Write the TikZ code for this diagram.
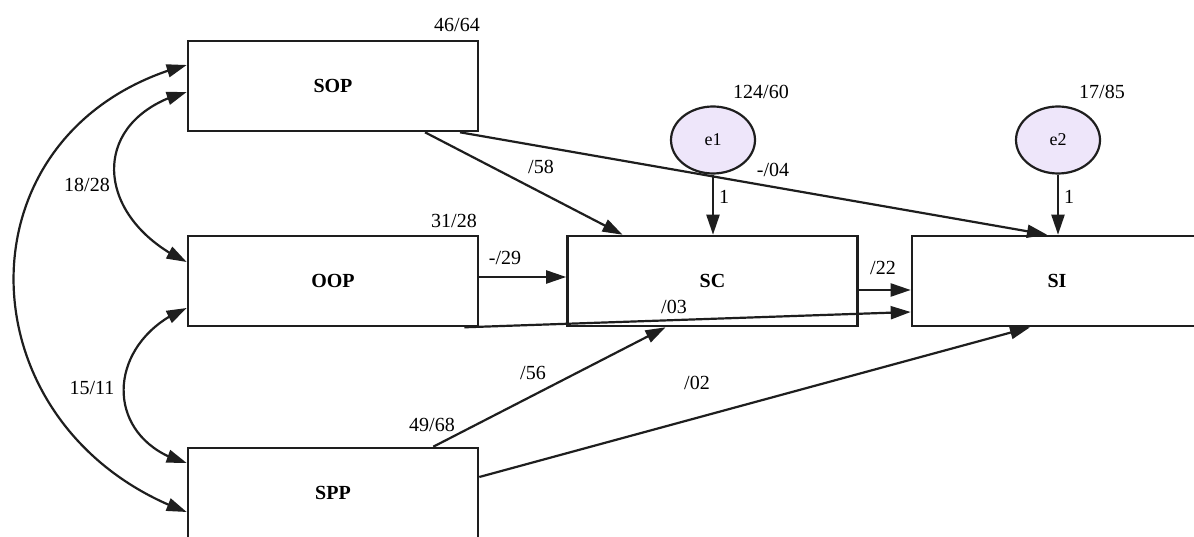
\documentclass[tikz,border=0pt]{standalone}
\usepackage{fontspec}
\setmainfont{Liberation Serif}
\usetikzlibrary{arrows.meta,bending,shapes.geometric}
\definecolor{lav}{RGB}{238,230,250}
\definecolor{ln}{RGB}{30,30,30}
\begin{document}
\begin{tikzpicture}[x=1pt,y=-1pt,
 box/.style={draw=ln,line width=2.6pt,fill=white,minimum width=290pt,minimum height=90pt,inner sep=0pt,font=\fontsize{20}{22}\selectfont\bfseries},
 err/.style={draw=ln,line width=2.2pt,fill=lav,ellipse,minimum width=84pt,minimum height=67pt,inner sep=0pt,font=\fontsize{18}{20}\selectfont},
 lbl/.style={inner sep=0pt,font=\fontsize{20}{22}\selectfont},
 arr/.style={draw=ln,line width=2.2pt,-{Triangle[length=20pt,width=13pt]}},
 dbl/.style={draw=ln,line width=2.2pt,{Triangle[length=20pt,width=13pt]}-{Triangle[length=20pt,width=13pt]}},
]
\useasboundingbox[fill=white] (0,0) rectangle (1194,537);
\begin{scope}
\clip (0,0) rectangle (1194,537);
% boxes
\node[box] (SOP) at (333,86) {SOP};
\node[box] (OOP) at (333,281) {OOP};
\node[box] (SPP) at (333,493) {SPP};
\node[box] (SC) at (712.5,281) {SC};
\node[box] (SI) at (1057,281) {SI};
\node[err] (e1) at (713,140) {e1};
\node[err] (e2) at (1058,140) {e2};
% covariances
\draw[dbl] ([yshift=21pt]SOP.west) to[out=195,in=160,looseness=1.39] ([yshift=-19pt]SPP.west);
\draw[dbl] ([yshift=-6pt]SOP.west) to[out=195,in=155,looseness=1.56] ([yshift=19pt]OOP.west);
\draw[dbl] ([yshift=-27pt]OOP.west) to[out=202,in=165,looseness=1.47] ([yshift=30pt]SPP.west);
% regressions
\draw[arr] ([xshift=92pt]SOP.south) -- ([xshift=-90pt]SC.north);
\draw[arr] ([xshift=127pt]SOP.south) -- ([xshift=-10pt]SI.north);
\draw[arr] (e1.south) -- (SC.north -| e1.south);
\draw[arr] (e2.south) -- (SI.north -| e2.south);
\draw[arr] ([yshift=4pt]OOP.east) -- ([yshift=4pt]SC.west);
\draw[arr] ([xshift=-15pt]OOP.south east) -- ([yshift=-31pt]SI.west);
\draw[arr] ([yshift=-9pt]SC.east) -- ([yshift=-9pt]SI.west);
\draw[arr] ([xshift=-46pt]SPP.north east) -- ([xshift=-47pt]SC.south);
\draw[arr] ([yshift=16pt]SPP.east) -- ([xshift=-27pt]SI.south);
% labels
\node[lbl] (l1) at (457,25) {46/64};
\node[lbl] (l2) at (454,221) {31/28};
\node[lbl] (l3) at (761,92) {124/60};
\node[lbl] (l4) at (1102,92) {17/85};
\node[lbl] (l5) at (87,185) {18/28};
\node[lbl] (l6) at (92,388) {15/11};
\node[lbl] (l7) at (432,425) {49/68};
\node[lbl] (l8) at (541,167) {/58};
\node[lbl] (l9) at (773,170) {-/04};
\node[lbl] (l10) at (724,197) {1};
\node[lbl] (l11) at (505,258) {-/29};
\node[lbl] (l12) at (883,268) {/22};
\node[lbl] (l13) at (674,307) {/03};
\node[lbl] (l14) at (1069,197) {1};
\node[lbl] (l15) at (533,373) {/56};
\node[lbl] (l16) at (697,383) {/02};
\end{scope}
\end{tikzpicture}
\end{document}
